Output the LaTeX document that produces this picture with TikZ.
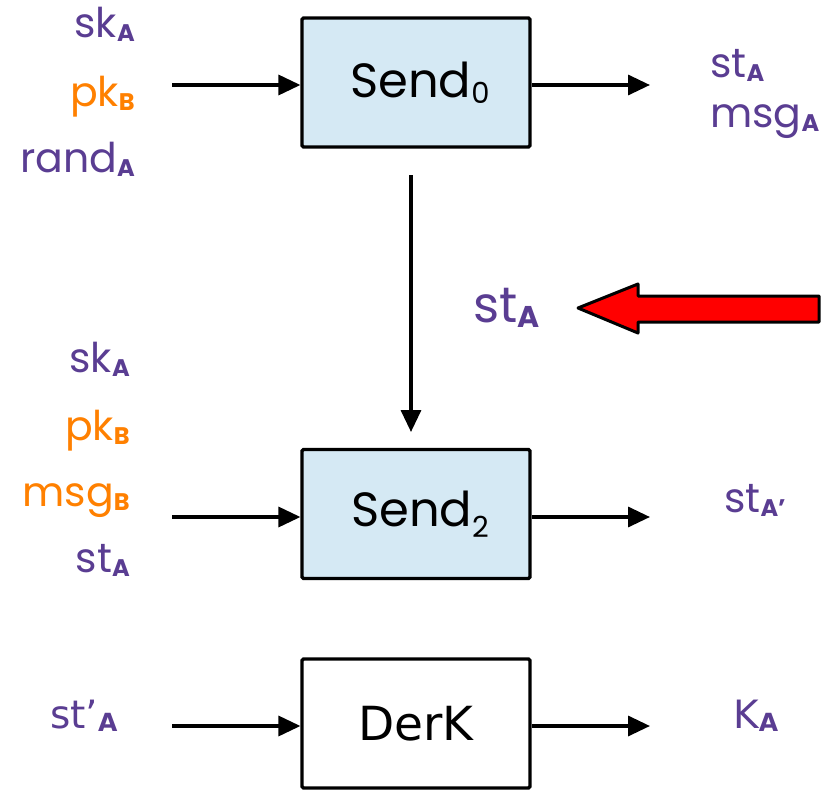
\documentclass[tikz,border=0pt]{standalone}
\usepackage{fontspec}
\setmainfont{Poppins}
\newfontfamily\dvfont{DejaVu Sans}
\usetikzlibrary{arrows.meta}
\definecolor{pur}{HTML}{5A3D92}
\definecolor{org}{HTML}{FF8000}
\definecolor{boxblue}{HTML}{D5E9F4}
\newcommand{\subl}[1]{\raisebox{-0.1em}{\fontsize{24}{26}\selectfont\bfseries #1}}
\tikzset{
  blk/.style={draw=black, line width=3.2pt, rounded corners=1.5pt, minimum width=228pt, minimum height=129pt, inner sep=0pt, font=\fontsize{48}{52}\selectfont},
  bluebox/.style={blk, fill=boxblue},
  lbl/.style={inner sep=0pt, font=\fontsize{41}{44}\selectfont},
  conn/.style={line width=3.4pt, -{Triangle[length=22pt,width=20pt]}},
}
\begin{document}
\begin{tikzpicture}[x=1pt,y=-1pt]
\useasboundingbox (0,0) rectangle (823,790);
% boxes
\node[bluebox] (s0) at (416,82.5) {\hspace{8pt}Send\raisebox{-0.12em}{\fontsize{29}{30}\selectfont 0}};
\node[bluebox] (s2) at (416,514) {\hspace{8pt}Send\raisebox{-0.22em}{\fontsize{29}{30}\selectfont 2}};
\node[blk, fill=white, font=\dvfont\fontsize{47}{50}\selectfont] (dk) at (416,723.5) {DerK};
% Send0 labels
\node[lbl, pur, anchor=base east] (skA) at (135,37) {sk\subl{A}};
\node[lbl, org, anchor=base east] (pkB) at (135,106) {pk\subl{B}};
\node[lbl, pur, anchor=base east] (randA) at (135,172) {rand\subl{A}};
\node[lbl, pur, anchor=base west] (stA) at (710,77) {st\subl{A}};
\node[lbl, pur, anchor=base west] (msgA) at (710,127) {msg\subl{A}};
% middle
\node[lbl, pur, anchor=base west, font=\fontsize{50}{54}\selectfont] (stmid) at (473,322) {st\raisebox{-0.1em}{\fontsize{30}{32}\selectfont\bfseries A}};
% Send2 labels
\node[lbl, pur, anchor=base east] (skA2) at (130,372) {sk\subl{A}};
\node[lbl, org, anchor=base east] (pkB2) at (130,440) {pk\subl{B}};
\node[lbl, org, anchor=base east] (msgB2) at (130,506) {msg\subl{B}};
\node[lbl, pur, anchor=base east] (stA2) at (130,572) {st\subl{A}};
\node[lbl, pur, anchor=base west] (stAp) at (724,512) {st\subl{A’}};
% DerK labels
\node[lbl, pur, anchor=base west, font=\dvfont\fontsize{39}{42}\selectfont] (stpA) at (50,728) {st’\raisebox{-0.1em}{\fontsize{25}{28}\selectfont\bfseries A}};
\node[lbl, pur, anchor=base west, font=\dvfont\fontsize{39}{42}\selectfont] (KA) at (733,728) {K\raisebox{-0.1em}{\fontsize{25}{28}\selectfont\bfseries A}};
% connector endpoints
\coordinate (i0) at (172,85);
\coordinate (o0) at (650,85);
\coordinate (i2) at (172,517);
\coordinate (o2) at (650,517);
\coordinate (id) at (172,726);
\coordinate (od) at (650,726);
\coordinate (vtop) at (411,175);
\coordinate (vbot) at (411,432);
\draw[conn] (i0) -- (i0 -| s0.west);
\draw[conn] (o0 -| s0.east) -- (o0);
\draw[conn] (i2) -- (i2 -| s2.west);
\draw[conn] (o2 -| s2.east) -- (o2);
\draw[conn] (id) -- (id -| dk.west);
\draw[conn] (od -| dk.east) -- (od);
\draw[conn] (vtop) -- (vbot);
% red block arrow
\draw[fill=red, draw=black, line width=3pt, line join=round]
  (578,308) -- (638,284) -- (638,296) -- (819,296) -- (819,322) -- (638,322) -- (638,333) -- cycle;
\end{tikzpicture}
\end{document}
